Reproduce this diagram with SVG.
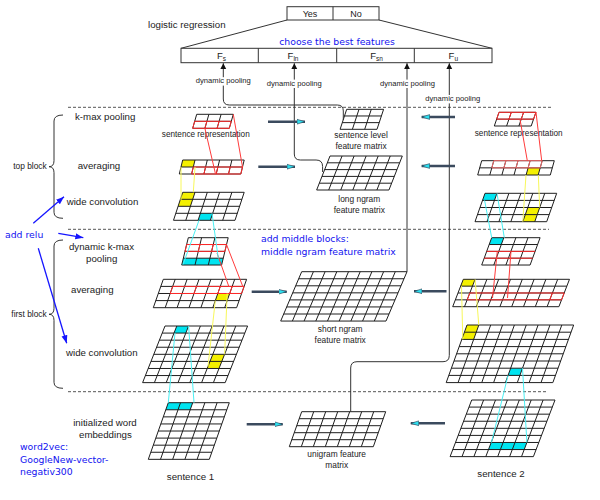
<svg xmlns="http://www.w3.org/2000/svg" width="600" height="500" viewBox="0 0 600 500">
<defs>
<style>
.g{fill:none;stroke:#1e1e1e;stroke-width:1;vector-effect:non-scaling-stroke}
.r{fill:none;stroke:#ff2a2a;stroke-width:1;vector-effect:non-scaling-stroke}
.rp{fill:none;stroke:#f06a6a;stroke-width:1;vector-effect:non-scaling-stroke}
.ye{fill:#f4f000}
.cy{fill:#00e4f0}
.t{font-family:"Liberation Sans",Arial,sans-serif;fill:#222}
.lb{font-size:9.7px}
.sm{font-size:8.4px;text-anchor:middle}
.dp{font-size:7.6px;text-anchor:middle}
.bg{fill:#fff}
.b{font-family:"DejaVu Sans",Verdana,sans-serif;fill:#1212f0;font-size:9.3px}
.con{fill:none;stroke:#333;stroke-width:1}
.dash{fill:none;stroke:#555;stroke-width:1;stroke-dasharray:3,2}
.thick{fill:none;stroke:#3b4a5e;stroke-width:2.6}
.yl{fill:none;stroke:#f8f85a;stroke-width:1}
.cl{fill:none;stroke:#4af0f4;stroke-width:1}
.rl{fill:none;stroke:#ff3b3b;stroke-width:1}
.bl{fill:none;stroke:#1515ff;stroke-width:1.3}
</style>
<marker id="fa" markerUnits="userSpaceOnUse" markerWidth="7" markerHeight="7" refX="6" refY="3" orient="auto"><path d="M0,0L6,3L0,6z" fill="#111"/></marker>
<marker id="ta" markerUnits="userSpaceOnUse" markerWidth="10" markerHeight="8" refX="8" refY="4" orient="auto"><path d="M0,1.6L8,4L0,6.4z" fill="#2ee0f0" stroke="#2b3b4f" stroke-width="0.6"/></marker>
<marker id="ba" markerUnits="userSpaceOnUse" markerWidth="10" markerHeight="8" refX="8" refY="3" orient="auto"><path d="M0,0L8,3L0,6z" fill="#1515ff"/></marker>
</defs>
<rect width="600" height="500" fill="#fff"/>

<g id="output">
<rect x="287" y="6.7" width="92" height="13.3" fill="#fff" stroke="#333"/>
<line x1="333" y1="6.7" x2="333" y2="20" stroke="#333"/>
<text class="t" x="310" y="16.8" font-size="9" text-anchor="middle">Yes</text>
<text class="t" x="356" y="16.8" font-size="9" text-anchor="middle">No</text>
<text class="t lb" x="148" y="28">logistic regression</text>
<path d="M287,20L181,48.3M379,20L492,48.3" fill="none" stroke="#333"/>
</g>

<g id="features">
<rect x="181" y="48.3" width="311" height="14.4" fill="#fff" stroke="#333"/>
<path d="M258.3,48.3v14.4M336.7,48.3v14.4M414.3,48.3v14.4" stroke="#333"/>
<text class="t" x="221.5" y="58.5" font-size="9.5" text-anchor="middle">F<tspan font-size="6.5" dy="2">s</tspan></text>
<text class="t" x="293" y="58.5" font-size="9.5" text-anchor="middle">F<tspan font-size="6.5" dy="2">ln</tspan></text>
<text class="t" x="376.5" y="58.5" font-size="9.5" text-anchor="middle">F<tspan font-size="6.5" dy="2">sn</tspan></text>
<text class="t" x="453.3" y="58.5" font-size="9.5" text-anchor="middle">F<tspan font-size="6.5" dy="2">u</tspan></text>
<text class="b" x="337" y="45.3" text-anchor="middle">choose the best features</text>
</g>

<g id="separators">
<path class="dash" d="M68,107.3H553M68,229.3H549M68,391.7H548"/>
<path d="M63,115Q54,115 54,121V160.7Q54,166.7 49,166.7Q54,166.7 54,172.7V212.3Q54,218.3 63,218.3" fill="none" stroke="#333"/>
<path d="M63,240Q54,240 54,246V308.3Q54,314.3 49,314.3Q54,314.3 54,320.3V382.3Q54,388.3 63,388.3" fill="none" stroke="#333"/>
<text class="t" x="46.7" y="168.5" font-size="8.4" text-anchor="end">top block</text>
<text class="t" x="46.7" y="317.2" font-size="8.4" text-anchor="end">first block</text>
</g>

<g id="layer-labels" class="t lb">
<text x="75" y="120">k-max pooling</text>
<text x="77.7" y="169">averaging</text>
<text x="66.7" y="205">wide convolution</text>
<text x="101.5" y="250" text-anchor="middle">dynamic k-max</text>
<text x="101.7" y="262" text-anchor="middle">pooling</text>
<text x="71" y="293">averaging</text>
<text x="66" y="356">wide convolution</text>
<text x="105" y="426" text-anchor="middle">initialized word</text>
<text x="105.4" y="438" text-anchor="middle">embeddings</text>
</g>

<g id="s1-top-kmax">
<g transform="matrix(12.2,0,-2,7,196.7,114.3)">
<path class="g" d="M0,0h3M0,1h3M0,2h3M0,0v2M1,0v2M2,0v2M3,0v2"/>
<path class="r" d="M0,1h3v1h-3zM1,1v1M2,1v1"/>
</g>
<text class="t" x="205.8" y="137.2" font-size="8.2" text-anchor="middle">sentence representation</text>
</g>
<g id="s1-top-avg">
<g transform="matrix(12.3,0,-1.7,7,182.7,160)">
<rect class="ye" x="0" y="0" width="1" height="1"/>
<path class="g" d="M0,0h5M0,1h5M0,2h5M0,0v2M1,0v2M2,0v2M3,0v2M4,0v2M5,0v2"/>
<path class="r" d="M1,1h4v1h-4zM2,1v1M3,1v1M4,1v1"/>
</g>
</g>
<g id="s1-top-conv">
<g transform="matrix(12.3,0,-2.3,7,182.7,192.3)">
<rect class="ye" x="0" y="0" width="1" height="2"/>
<rect class="cy" x="2" y="3" width="1" height="1"/>
<path class="g" d="M0,0h5M0,1h5M0,2h5M0,3h5M0,4h5M0,0v4M1,0v4M2,0v4M3,0v4M4,0v4M5,0v4"/>
</g>
</g>
<g id="s1-first-kmax">
<g transform="matrix(13.3,0,-1.65,6.83,188.3,237.7)">
<rect class="cy" x="0" y="3" width="3" height="1"/>
<path class="g" d="M0,0h3M0,1h3M0,2h3M0,3h3M0,4h3M0,0v4M1,0v4M2,0v4M3,0v4"/>
<path class="r" d="M0,1h3v1h-3zM1,1v1M2,1v1"/>
</g>
</g>
<g id="s1-first-avg">
<g transform="matrix(11.9,0,-2.5,7.1,163.3,279.3)">
<rect class="ye" x="5" y="2" width="1" height="1"/>
<path class="g" d="M0,0h7M0,1h7M0,2h7M0,3h7M0,4h7M0,0v4M1,0v4M2,0v4M3,0v4M4,0v4M5,0v4M6,0v4M7,0v4"/>
<path class="r" d="M1,1h6M1,2h6M1,1v1M3,1v1M5,1v1M6,1v1M7,1v1"/>
</g>
</g>
<g id="s1-first-conv">
<g transform="matrix(11.8,0,-2.8,7.08,165,326)">
<rect class="cy" x="1" y="0" width="1" height="1"/>
<rect class="ye" x="5" y="4" width="1" height="2"/>
<path class="g" d="M0,0h7M0,1h7M0,2h7M0,3h7M0,4h7M0,5h7M0,6h7M0,7h7M0,8h7M0,0v8M1,0v8M2,0v8M3,0v8M4,0v8M5,0v8M6,0v8M7,0v8"/>
</g>
</g>
<g id="s1-embed">
<g transform="matrix(12.2,0,-2.5,7.08,168.3,402.7)">
<rect class="cy" x="0" y="0" width="2" height="1"/>
<path class="g" d="M0,0h5M0,1h5M0,2h5M0,3h5M0,4h5M0,5h5M0,6h5M0,7h5M0,8h5M0,0v8M1,0v8M2,0v8M3,0v8M4,0v8M5,0v8"/>
</g>
<text class="t lb" x="190.5" y="480.3" text-anchor="middle">sentence 1</text>
</g>

<g id="sentence-level">
<g transform="matrix(12.3,0,-2.2,6.67,346.7,109.3)">
<path class="g" d="M0,0h3M0,1h3M0,2h3M0,3h3M0,0v3M1,0v3M2,0v3M3,0v3"/>
</g>
<text class="t sm" x="361" y="137.8">sentence level</text>
<text class="t sm" x="361" y="148.5">feature matrix</text>
</g>
<g id="long-ngram">
<g transform="matrix(12.05,0,-2.67,6.8,330,156)">
<path class="g" d="M0,0h6M0,1h6M0,2h6M0,3h6M0,4h6M0,5h6M0,0v5M1,0v5M2,0v5M3,0v5M4,0v5M5,0v5M6,0v5"/>
</g>
<text class="t sm" x="359.3" y="202.2">long ngram</text>
<text class="t sm" x="359.3" y="212.9">feature matrix</text>
</g>
<g id="short-ngram">
<g transform="matrix(11.7,0,-3,7.05,301.7,271.7)">
<path class="g" d="M0,0h9M0,1h9M0,2h9M0,3h9M0,4h9M0,5h9M0,6h9M0,7h9M0,0v7M1,0v7M2,0v7M3,0v7M4,0v7M5,0v7M6,0v7M7,0v7M8,0v7M9,0v7"/>
</g>
<text class="t sm" x="340.2" y="332.2">short ngram</text>
<text class="t sm" x="340.2" y="342.9">feature matrix</text>
</g>
<g id="unigram">
<g transform="matrix(12,0,-2.48,7,301.7,411.7)">
<path class="g" d="M0,0h7M0,1h7M0,2h7M0,3h7M0,4h7M0,5h7M0,0v5M1,0v5M2,0v5M3,0v5M4,0v5M5,0v5M6,0v5M7,0v5"/>
</g>
<text class="t sm" x="336.7" y="457.2">unigram feature</text>
<text class="t sm" x="336.7" y="467.9">matrix</text>
</g>

<g id="s2-top-kmax">
<g transform="matrix(12.3,0,-2.35,6.85,499,112.3)">
<path class="g" d="M0,0h3M0,1h3M0,2h3M0,0v2M1,0v2M2,0v2M3,0v2"/>
<path class="r" d="M0,0h3v1h-3zM1,0v1M2,0v1"/>
</g>
<text class="t" x="518.7" y="136.3" font-size="8.2" text-anchor="middle">sentence representation</text>
</g>
<g id="s2-top-avg">
<g transform="matrix(12.1,0,-2,7.15,481.7,160.7)">
<rect class="ye" x="4" y="1" width="1" height="1"/>
<path class="g" d="M0,0h6M0,1h6M0,2h6M0,0v2M1,0v2M2,0v2M3,0v2M4,0v2M5,0v2M6,0v2"/>
<path class="rp" d="M1,0h4v1h-4zM2,0v1M3,0v1M4,0v1"/>
</g>
</g>
<g id="s2-top-conv">
<g transform="matrix(11.95,0,-2.5,7.1,485,193.3)">
<rect class="cy" x="0" y="0" width="1" height="1"/>
<rect class="ye" x="4" y="2" width="1" height="2"/>
<path class="g" d="M0,0h6M0,1h6M0,2h6M0,3h6M0,4h6M0,0v4M1,0v4M2,0v4M3,0v4M4,0v4M5,0v4M6,0v4"/>
</g>
</g>
<g id="s2-first-kmax">
<g transform="matrix(12.1,0,-2.5,6.83,491.7,237.7)">
<rect class="cy" x="0" y="0" width="1" height="1"/>
<path class="g" d="M0,0h4M0,1h4M0,2h4M0,3h4M0,4h4M0,0v4M1,0v4M2,0v4M3,0v4M4,0v4"/>
<path class="r" d="M0,2h4M0,3h4"/>
</g>
</g>
<g id="s2-first-avg">
<g transform="matrix(11.8,0,-2.65,6.85,463.3,279.3)">
<rect class="ye" x="0" y="0" width="1" height="1"/>
<path class="g" d="M0,0h9M0,1h9M0,2h9M0,3h9M0,4h9M0,0v4M1,0v4M2,0v4M3,0v4M4,0v4M5,0v4M6,0v4M7,0v4M8,0v4M9,0v4"/>
<path class="r" d="M1,2h8M1,3h8M1,2v1M8,2v1M9,2v1"/>
</g>
</g>
<g id="s2-first-conv">
<g transform="matrix(11.85,0,-2.6,7.2,467,325)">
<rect class="ye" x="0" y="0" width="1" height="2"/>
<rect class="cy" x="5" y="6" width="1" height="1"/>
<path class="g" d="M0,0h9M0,1h9M0,2h9M0,3h9M0,4h9M0,5h9M0,6h9M0,7h9M0,8h9M0,0v8M1,0v8M2,0v8M3,0v8M4,0v8M5,0v8M6,0v8M7,0v8M8,0v8M9,0v8"/>
</g>
</g>
<g id="s2-embed">
<g transform="matrix(11.9,0,-2.7,7.08,471.7,400)">
<rect class="cy" x="3" y="6" width="3" height="1"/>
<path class="g" d="M0,0h7M0,1h7M0,2h7M0,3h7M0,4h7M0,5h7M0,6h7M0,7h7M0,8h7M0,0v8M1,0v8M2,0v8M3,0v8M4,0v8M5,0v8M6,0v8M7,0v8"/>
</g>
<text class="t lb" x="501" y="477.3" text-anchor="middle">sentence 2</text>
</g>

<g id="annotations" class="b">
<text x="5" y="237.6">add relu</text>
<text x="261" y="242.3">add middle blocks:</text>
<text x="261" y="254.6">middle ngram feature matrix</text>
<text x="20" y="449.5">word2vec:</text>
<text x="20" y="462.8">GoogleNew-vector-</text>
<text x="20" y="474.6">negativ300</text>
</g>

<g id="connectors">
<path class="con" d="M343.3,120V111Q343.3,105 337.3,105H229.3Q223.3,105 223.3,99V63.2" marker-end="url(#fa)"/>
<path class="con" d="M322.6,172V166.5Q322.6,160 316.1,160H300.3Q294.3,160 294.3,154V63.2" marker-end="url(#fa)"/>
<path class="con" d="M407,271.7V63.2" marker-end="url(#fa)"/>
<path class="con" d="M350.7,411.7V368Q350.7,361.7 357,361.7H443Q449.3,361.7 449.3,355.4V63.2" marker-end="url(#fa)"/>
<rect class="bg" x="195.8" y="77.2" width="55" height="8.4"/>
<rect class="bg" x="266.8" y="79.6" width="55" height="8.4"/>
<rect class="bg" x="380" y="79.6" width="55" height="8.4"/>
<rect class="bg" x="425.3" y="95" width="55" height="8.4"/>
<text class="t dp" x="223.3" y="83.4">dynamic pooling</text>
<text class="t dp" x="294.3" y="85.8">dynamic pooling</text>
<text class="t dp" x="407.5" y="85.8">dynamic pooling</text>
<text class="t dp" x="452.8" y="101.2">dynamic pooling</text>

<path class="thick" d="M268,121.7H305" marker-end="url(#ta)"/>
<path class="thick" d="M258.3,166.7H295" marker-end="url(#ta)"/>
<path class="thick" d="M251.7,291.7H286.7" marker-end="url(#ta)"/>
<path class="thick" d="M246.7,424.3H282.7" marker-end="url(#ta)"/>
<path class="thick" d="M455,117H421.7" marker-end="url(#ta)"/>
<path class="thick" d="M455,166H421.7" marker-end="url(#ta)"/>
<path class="thick" d="M446.5,291.3H414" marker-end="url(#ta)"/>
<path class="thick" d="M445,423.3H410.8" marker-end="url(#ta)"/>

<path class="rl" d="M204.9,128.3L215.5,174M233.3,114.3L242.5,167"/>
<path class="rl" d="M217,253L229,287M226.5,244.5L243,287"/>
<path class="rl" d="M520,119.3L527.3,160.7M536,112.3L541.7,160.7"/>
<path class="rl" d="M497.3,251.3L492.5,298M511,251.3L507.5,298"/>

<path class="yl" d="M181,167L181,200.3M195,167L193.3,192.3"/>
<path class="yl" d="M215.3,300.6L208,366.5M227.2,293.5L224.6,354.3"/>
<path class="yl" d="M526,175L522.8,221.7M538.3,175L539.7,207.5"/>
<path class="yl" d="M461.5,286.2L462.8,339.4M475.1,279.3L478.8,325"/>

<path class="cl" d="M199,220.3L183,264.5M212,213.3L218.3,258.3"/>
<path class="cl" d="M175,333L168.3,402.7M188.6,326L194,402.7"/>
<path class="cl" d="M484.6,200.4L491.7,237.7M497,193.3L504.3,237.7"/>
<path class="cl" d="M508,375.4L491.5,442.5M522.5,368.2L526.9,442.5"/>

<path class="bl" d="M58.3,233.3L83.3,237.7" marker-end="url(#ba)"/>
<path class="bl" d="M33.3,223.3L64,196.7" marker-end="url(#ba)"/>
<path class="bl" d="M38.3,248.3L66.7,343.3" marker-end="url(#ba)"/>
</g>
</svg>
